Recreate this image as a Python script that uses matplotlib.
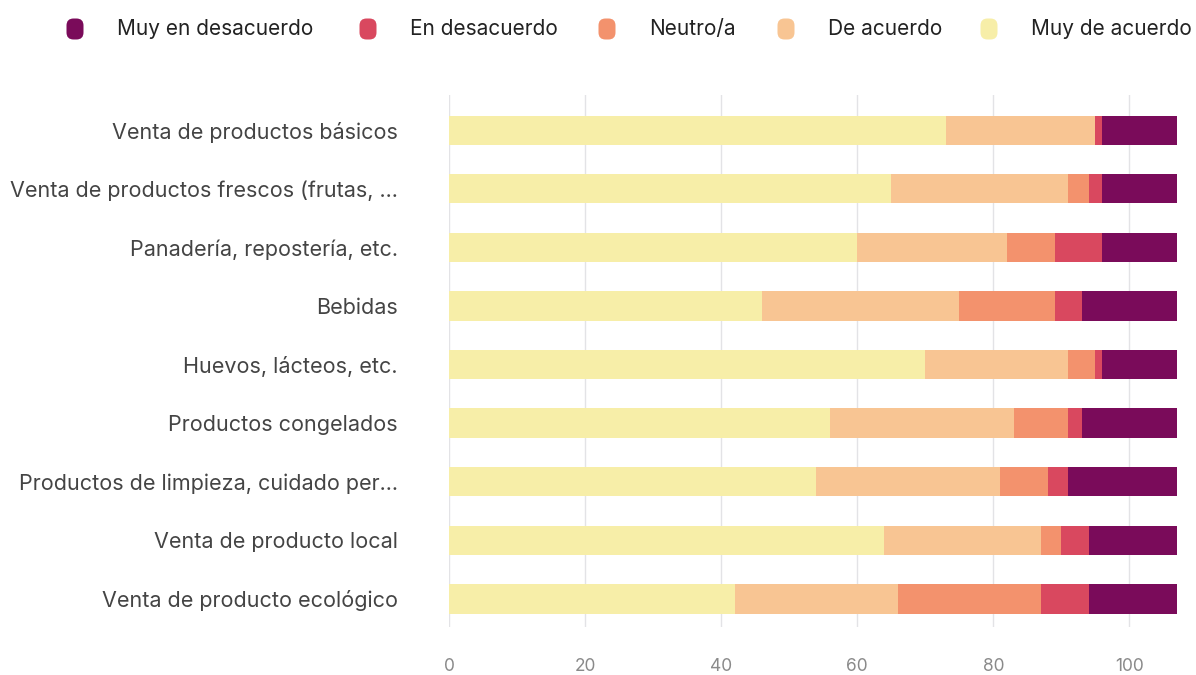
import matplotlib
matplotlib.use("Agg")
import matplotlib.pyplot as plt
from matplotlib.patches import FancyBboxPatch
import numpy as np

plt.rcParams['font.family'] = ['Inter', 'DejaVu Sans']

categories = [
    "Venta de productos básicos",
    "Venta de productos frescos (frutas, ...",
    "Panadería, repostería, etc.",
    "Bebidas",
    "Huevos, lácteos, etc.",
    "Productos congelados",
    "Productos de limpieza, cuidado per...",
    "Venta de producto local",
    "Venta de producto ecológico",
]
series_names = ["Muy de acuerdo", "De acuerdo", "Neutro/a", "En desacuerdo", "Muy en desacuerdo"]
muy_de_acuerdo    = [73, 65, 60, 46, 70, 56, 54, 64, 42]
de_acuerdo        = [22, 26, 22, 29, 21, 27, 27, 23, 24]
neutro            = [0, 3, 7, 14, 4, 8, 7, 3, 21]
en_desacuerdo     = [1, 2, 7, 4, 1, 2, 3, 4, 7]
muy_en_desacuerdo = [11, 11, 11, 14, 11, 14, 16, 13, 13]
xticks = [0, 20, 40, 60, 80, 100]

colors = ["#F7EEA8", "#F8C593", "#F3926D", "#D9485F", "#7A0B5A"]
legend_order = ["Muy en desacuerdo", "En desacuerdo", "Neutro/a", "De acuerdo", "Muy de acuerdo"]

W, H = 1196, 675
fig = plt.figure(figsize=(W / 100, H / 100), dpi=100)
ax = fig.add_axes([449 / W, 1 - 627 / H, (1177 - 449) / W, (627 - 95) / H])

series = [muy_de_acuerdo, de_acuerdo, neutro, en_desacuerdo, muy_en_desacuerdo]
y = np.arange(len(categories))
left = np.zeros(len(categories))
for vals, c, name in zip(series, colors, series_names):
    v = np.array(vals, dtype=float)
    ax.barh(y, v, left=left, height=0.5, color=c, edgecolor='none', label=name, zorder=2)
    left += v

ax.set_xlim(0, 107)
ax.set_ylim(len(categories) - 0.52, -0.6)
ax.set_yticks(y)
ax.set_yticklabels(categories, fontsize=15.5, color="#444444")
ax.set_xticks(xticks)
ax.set_xticklabels([str(t) for t in xticks], fontsize=12.5, color="#8a8a8a")
ax.tick_params(axis='y', length=0, pad=37)
ax.tick_params(axis='x', length=0, pad=22)
ax.grid(axis='x', color="#e3e3e6", linewidth=1, zorder=0)
ax.set_axisbelow(True)
for s in ax.spines.values():
    s.set_visible(False)

# Legend (manual)
marker_x = [75, 368, 607, 786, 989]
color_map = dict(zip(series_names, colors))
ly = 29
for name, mx in zip(legend_order, marker_x):
    w, h = 17, 21
    p = FancyBboxPatch(((mx - w / 2) / 100, (H - ly - h / 2) / 100), w / 100, h / 100,
                       boxstyle="round,pad=0,rounding_size=0.07",
                       transform=fig.dpi_scale_trans, facecolor=color_map[name],
                       edgecolor='none')
    fig.patches.append(p)
    fig.text((mx + 42) / W, 1 - ly / H, name, fontsize=15, color="#222222",
             va='center', ha='left')

fig.savefig("out.png", dpi=100, facecolor='white')
